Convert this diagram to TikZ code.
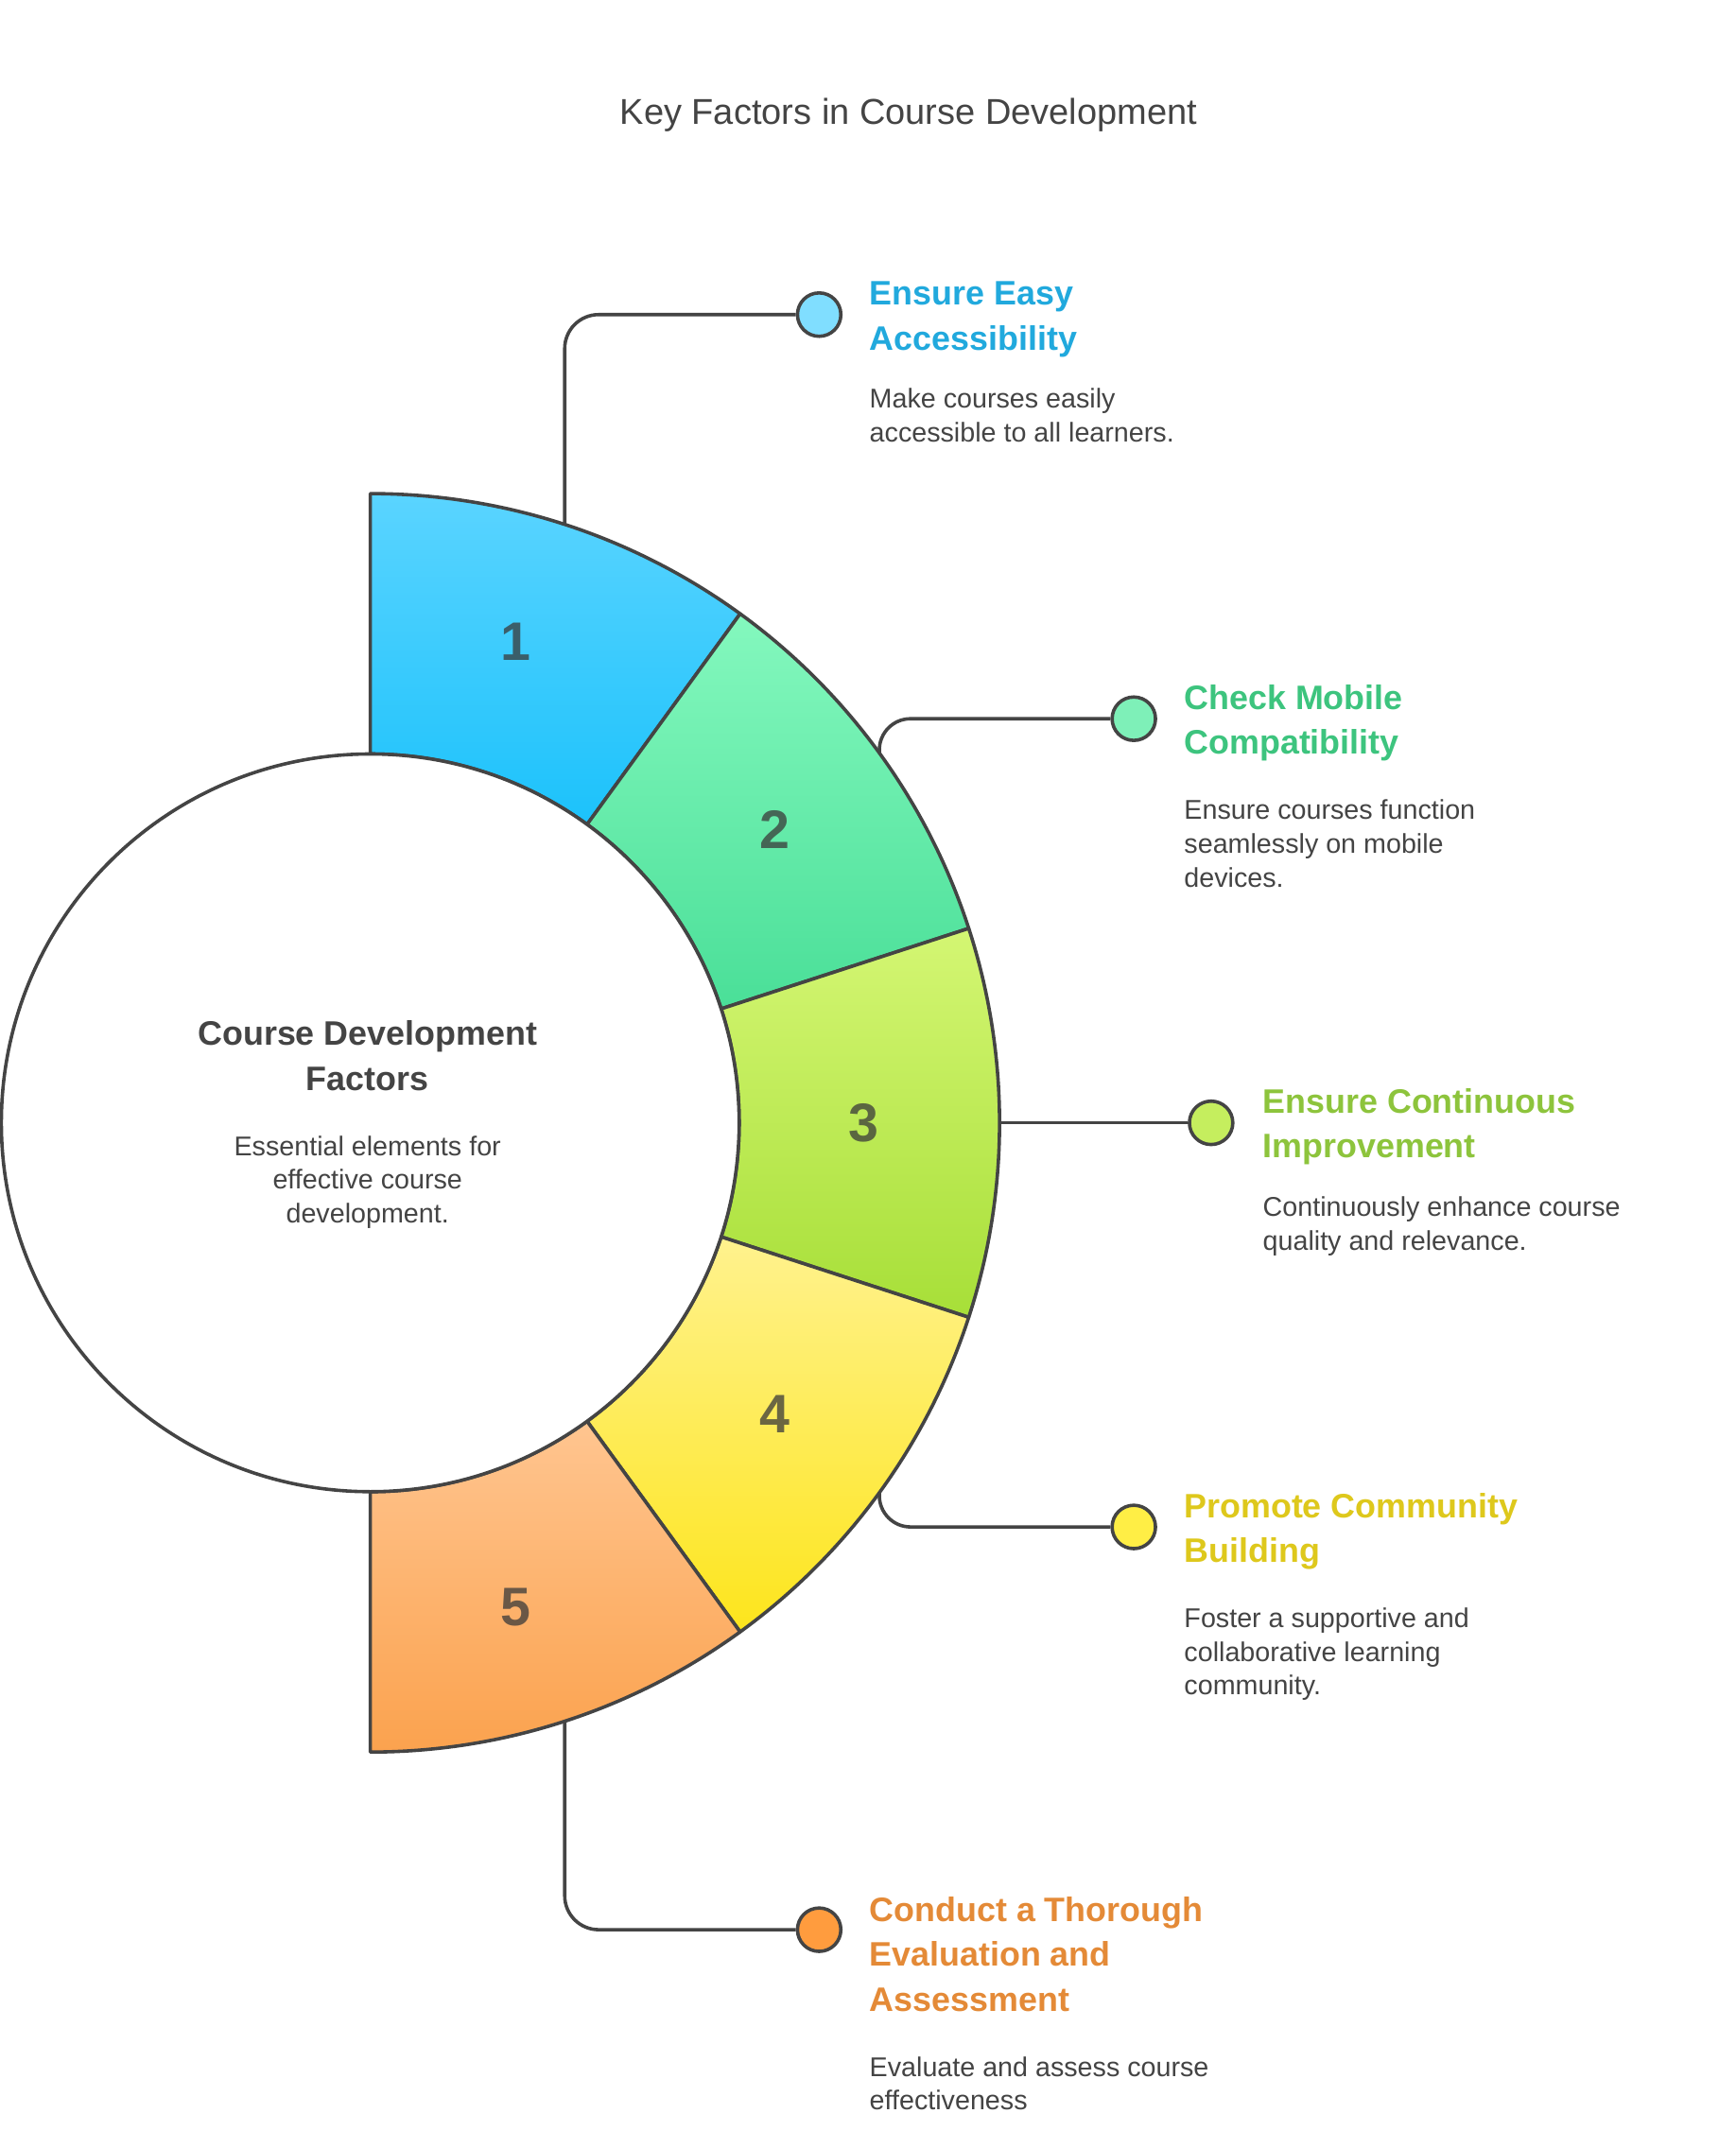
\documentclass[tikz,border=0pt]{standalone}
\usepackage{fontspec}
\setmainfont{Liberation Sans}
\definecolor{edge}{HTML}{444444}
\definecolor{txt}{HTML}{444444}
\definecolor{numc}{HTML}{3A3A3A}
\definecolor{s1t}{HTML}{5AD4FF}\definecolor{s1b}{HTML}{1CC2FB}
\definecolor{s2t}{HTML}{84F8BE}\definecolor{s2b}{HTML}{4ADF98}
\definecolor{s3t}{HTML}{D4F673}\definecolor{s3b}{HTML}{A7DF38}
\definecolor{s4t}{HTML}{FFF28E}\definecolor{s4b}{HTML}{FDE51C}
\definecolor{s5t}{HTML}{FFC590}\definecolor{s5b}{HTML}{FBA24E}
\definecolor{d1c}{HTML}{80DEFF}\definecolor{d2c}{HTML}{7EF0B8}
\definecolor{d3c}{HTML}{C5EE5E}\definecolor{d4c}{HTML}{FFEE45}
\definecolor{d5c}{HTML}{FF9C3E}
\definecolor{h1c}{HTML}{21A9DD}\definecolor{h2c}{HTML}{3DC47E}
\definecolor{h3c}{HTML}{8DC43C}\definecolor{h4c}{HTML}{DEC81C}
\definecolor{h5c}{HTML}{E48A37}
\begin{document}
\begin{tikzpicture}[x=1pt,y=-1pt,
  seg/.style={draw=edge,line width=2.5pt,line join=round},
  dot/.style={circle,draw=edge,line width=2.5pt,minimum size=32pt,inner sep=0pt},
  link/.style={draw=edge,line width=2.5pt,rounded corners=25pt},
  shortlink/.style={draw=edge,line width=2.5pt,rounded corners=23pt},
  head/.style={anchor=base west,align=left,inner sep=0pt,font=\fontsize{25}{33}\selectfont\bfseries},
  desc/.style={anchor=base west,align=left,inner sep=0pt,text=txt,font=\fontsize{20}{25}\selectfont},
  num/.style={inner sep=0pt,font=\fontsize{40}{40}\selectfont\bfseries,text=numc,text opacity=0.75}]
\useasboundingbox (0,0) rectangle (1280,1584);
\fill[white] (0,0) rectangle (1280,1584);

% title
\node[font=\fontsize{26.5}{30}\selectfont,text=txt,anchor=base,inner sep=0pt] (title) at (670,92) {Key Factors in Course Development};

% attachment points on the ring
\begin{scope}[shift={(273,828)}]
  \coordinate (c1) at (72:464pt);
  \coordinate (c2) at (36:464pt);
  \coordinate (c3) at (0:464pt);
  \coordinate (c4) at (-36:464pt);
  \coordinate (c5) at (-72:464pt);
\end{scope}

% end dots
\node[dot,fill=d1c] (d1) at (604,232) {};
\node[dot,fill=d2c] (d2) at (836,530) {};
\node[dot,fill=d3c] (d3) at (893,828) {};
\node[dot,fill=d4c] (d4) at (836,1126) {};
\node[dot,fill=d5c] (d5) at (604,1423) {};

% connectors
\draw[link] (c1) |- (d1);
\draw[shortlink] (c2) |- (d2);
\draw[link] (c3) -- (d3);
\draw[shortlink] (c4) |- (d4);
\draw[link] (c5) |- (d5);

% ring segments
\begin{scope}[shift={(273,828)}]
  \path[seg,top color=s1t,bottom color=s1b] (90:272pt) -- (90:464pt) arc[start angle=90,end angle=54,radius=464pt] -- (54:272pt) arc[start angle=54,end angle=90,radius=272pt] -- cycle;
  \path[seg,top color=s2t,bottom color=s2b] (54:272pt) -- (54:464pt) arc[start angle=54,end angle=18,radius=464pt] -- (18:272pt) arc[start angle=18,end angle=54,radius=272pt] -- cycle;
  \path[seg,top color=s3t,bottom color=s3b] (18:272pt) -- (18:464pt) arc[start angle=18,end angle=-18,radius=464pt] -- (-18:272pt) arc[start angle=-18,end angle=18,radius=272pt] -- cycle;
  \path[seg,top color=s4t,bottom color=s4b] (-18:272pt) -- (-18:464pt) arc[start angle=-18,end angle=-54,radius=464pt] -- (-54:272pt) arc[start angle=-54,end angle=-18,radius=272pt] -- cycle;
  \path[seg,top color=s5t,bottom color=s5b] (-54:272pt) -- (-54:464pt) arc[start angle=-54,end angle=-90,radius=464pt] -- (-90:272pt) arc[start angle=-90,end angle=-54,radius=272pt] -- cycle;
\end{scope}

% hub
\node[circle,draw=edge,line width=2.5pt,fill=white,minimum size=544pt,inner sep=0pt] (hub) at (273,828) {};

% numbers
\node[num] (n1) at (380,473) {1};
\node[num] (n2) at (571,612) {2};
\node[num] (n3) at (637,828) {3};
\node[num] (n4) at (571,1043) {4};
\node[num] (n5) at (380,1185) {5};

% hub text (base anchor = baseline of last line)
\node[font=\fontsize{25}{33}\selectfont\bfseries,align=center,anchor=base,text=txt,inner sep=0pt] (htitle) at (271,804) {Course Development\\Factors};
\node[font=\fontsize{20}{25}\selectfont,align=center,anchor=base,text=txt,inner sep=0pt] (hdesc) at (271,902) {Essential elements for\\effective course\\development.};

% labels (base anchor = baseline of last line)
\node[head,text=h1c] (t1) at (641,258) {Ensure Easy\\Accessibility};
\node[desc] (e1) at (641,326) {Make courses easily\\accessible to all learners.};
\node[head,text=h2c] (t2) at (873,556) {Check Mobile\\Compatibility};
\node[desc] (e2) at (873,654) {Ensure courses function\\seamlessly on mobile\\devices.};
\node[head,text=h3c] (t3) at (931,854) {Ensure Continuous\\Improvement};
\node[desc] (e3) at (931,922) {Continuously enhance course\\quality and relevance.};
\node[head,text=h4c] (t4) at (873,1152) {Promote Community\\Building};
\node[desc] (e4) at (873,1250) {Foster a supportive and\\collaborative learning\\community.};
\node[head,text=h5c] (t5) at (641,1483) {Conduct a Thorough\\Evaluation and\\Assessment};
\node[desc] (e5) at (641,1556) {Evaluate and assess course\\effectiveness};
\end{tikzpicture}
\end{document}
